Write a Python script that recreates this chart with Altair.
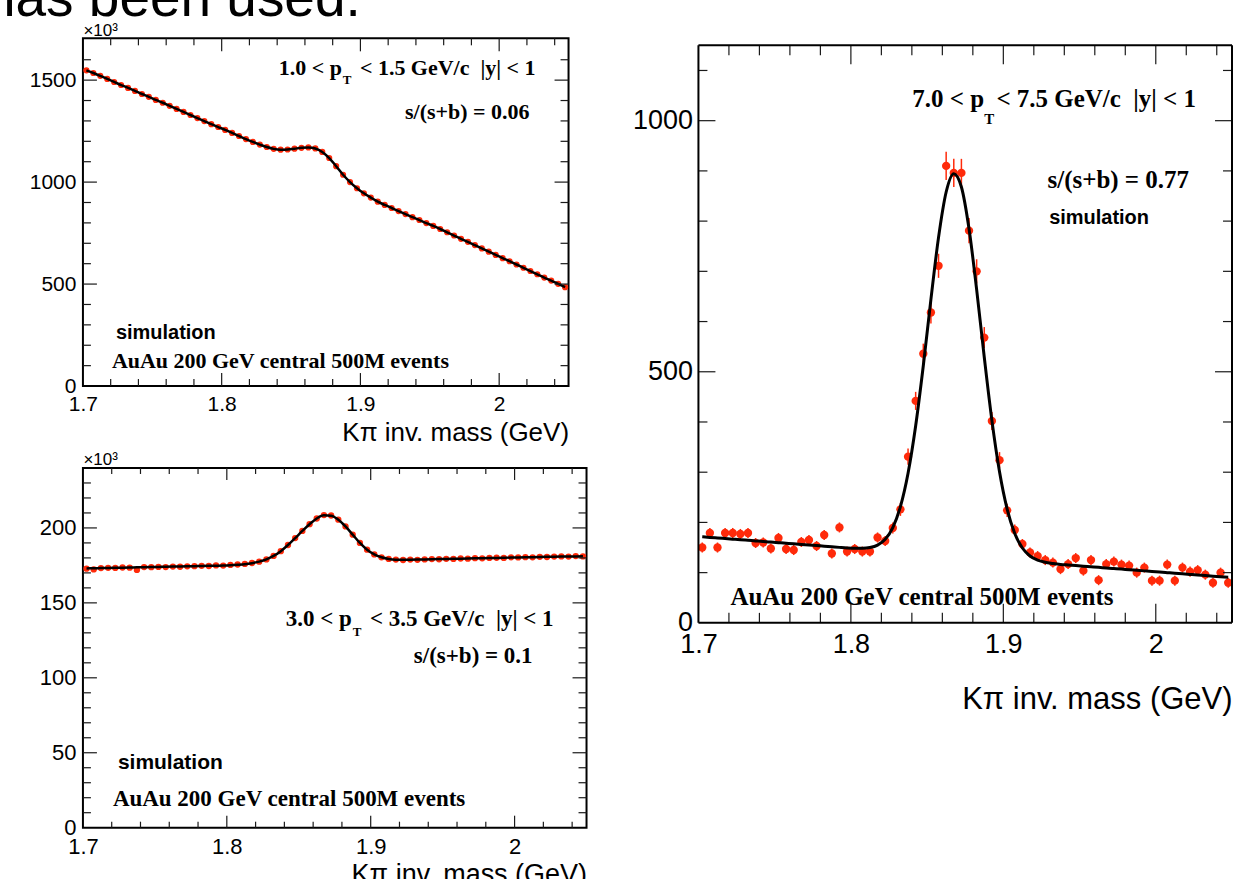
import altair as alt
import pandas as pd

# ---------------- data ----------------
# 70 bins of 5 MeV between 1.70 and 2.05 GeV (bin centres)
mass = [round(1.7025 + 0.005 * i, 4) for i in range(70)]

# top-left: 1.0 < pT < 1.5 GeV/c  (units of 10^3)
tl_counts = [1548, 1535, 1521, 1506, 1491, 1476, 1462, 1447, 1432, 1418,
             1403, 1389, 1374, 1359, 1344, 1329, 1314, 1299, 1284, 1270,
             1256, 1241, 1226, 1211, 1197, 1184, 1172, 1163, 1159, 1160,
             1164, 1168, 1170, 1165, 1148, 1118, 1078, 1036, 1000, 970,
             945, 924, 904, 888, 873, 858, 843, 828, 814, 799,
             785, 770, 754, 738, 722, 707, 691, 675, 659, 643,
             627, 612, 596, 580, 564, 548, 532, 517, 501, 485]
tl_fit = tl_counts

# bottom-left: 3.0 < pT < 3.5 GeV/c  (units of 10^3)
bl_counts = [172.8, 172.3, 173.2, 173.4, 173.3, 173.6, 173.5, 172.0, 173.9, 173.8,
             174.0, 173.9, 174.2, 174.1, 174.4, 174.5, 174.7, 174.6, 175.0, 174.9,
             175.3, 175.6, 176.0, 176.6, 177.5, 179.0, 181.3, 184.5, 188.6, 193.2,
             198.0, 202.5, 206.3, 208.6, 208.3, 205.5, 201.0, 195.5, 190.0, 185.5,
             182.3, 180.4, 179.3, 178.9, 178.6, 178.9, 178.7, 179.0, 179.2, 179.1,
             179.4, 179.3, 179.6, 179.5, 179.8, 179.7, 180.0, 180.1, 180.0, 180.4,
             180.3, 180.5, 180.4, 180.7, 180.6, 180.9, 181.0, 180.9, 181.2, 181.0]
bl_fit = [173.0, 173.1, 173.2, 173.3, 173.4, 173.5, 173.6, 173.7, 173.8, 173.9,
          174.0, 174.1, 174.2, 174.3, 174.4, 174.5, 174.6, 174.7, 174.8, 174.9,
          175.1, 175.4, 175.8, 176.5, 177.5, 179.0, 181.3, 184.5, 188.6, 193.2,
          198.0, 202.5, 206.3, 208.4, 208.2, 205.5, 201.0, 195.5, 190.0, 185.5,
          182.3, 180.4, 179.3, 178.8, 178.7, 178.8, 178.9, 179.0, 179.1, 179.2,
          179.3, 179.4, 179.5, 179.6, 179.7, 179.8, 179.9, 180.0, 180.1, 180.2,
          180.3, 180.4, 180.5, 180.6, 180.7, 180.8, 180.9, 181.0, 181.0, 181.1]

# right: 7.0 < pT < 7.5 GeV/c
r_counts = [150, 179, 150, 179, 179, 177, 179, 159, 160, 148,
            169, 147, 145, 161, 165, 153, 175, 138, 190, 142,
            147, 142, 142, 170, 163, 189, 226, 331, 442, 536,
            618, 711, 910, 896, 896, 781, 700, 568, 402, 324,
            224, 185, 157, 140, 133, 125, 120, 107, 117, 129,
            104, 125, 85, 117, 122, 116, 114, 100, 110, 84,
            84, 116, 84, 110, 102, 105, 96, 80, 100, 80]
r_err = [10, 10, 10, 10, 10, 10, 10, 10, 10, 10,
         10, 10, 10, 10, 10, 10, 10, 10, 10, 10,
         10, 10, 10, 10, 10, 11, 13, 16, 18, 20,
         22, 24, 28, 28, 28, 25, 24, 21, 18, 16,
         13, 11, 10, 10, 10, 10, 10, 10, 10, 10,
         10, 10, 10, 10, 10, 10, 10, 10, 10, 10,
         10, 10, 10, 10, 10, 10, 10, 10, 10, 10]
r_fit = [171.4, 170.2, 169.1, 167.9, 166.7, 165.6, 164.4, 163.2, 162.0, 160.9,
         159.7, 158.5, 157.4, 156.2, 155.0, 153.9, 152.7, 151.5, 150.3, 149.2,
         148.5, 148.4, 149.9, 154.7, 166.3, 189.8, 231.6, 298.0, 392.5, 512.0,
         644.0, 767.6, 858.0, 894.5, 868.0, 784.7, 663.5, 528.9, 403.2, 300.8,
         226.6, 178.0, 149.0, 133.2, 124.9, 120.6, 118.3, 116.4, 115.2, 114.1,
         112.9, 111.7, 110.5, 109.4, 108.2, 107.0, 105.9, 104.7, 103.5, 102.3,
         101.2, 100.0, 98.8, 97.7, 96.5, 95.3, 94.2, 93.0, 91.8, 90.6]

# axis tick values
x_labels = [1.7, 1.8, 1.9, 2.0]
x_major_ticks = [1.8, 1.9, 2.0]
x_minor_ticks = [1.72, 1.74, 1.76, 1.78, 1.82, 1.84, 1.86, 1.88,
                 1.92, 1.94, 1.96, 1.98, 2.02, 2.04]
tl_y_labels = [0, 500, 1000, 1500]
tl_y_minor = [100, 200, 300, 400, 600, 700, 800, 900, 1100, 1200, 1300, 1400, 1600]
bl_y_labels = [0, 50, 100, 150, 200]
bl_y_minor = [10, 20, 30, 40, 60, 70, 80, 90, 110, 120, 130, 140,
              160, 170, 180, 190, 210, 220, 230]
r_y_labels = [0, 500, 1000]
r_y_minor = [100, 200, 300, 400, 600, 700, 800, 900, 1100]

XTITLE = "Kπ inv. mass (GeV)"
RED = "#ff2a0a"
SANS = "Liberation Sans"
SERIF = "Liberation Serif"
ONE = pd.DataFrame({"k": [0]})
XLABEL_EXPR = "datum.value == 2 ? '2' : format(datum.value, '.1f')"


def txt(s, x, y, size, font=SERIF, weight="bold", align="left"):
    return alt.Chart(ONE).mark_text(
        text=s, font=font, fontSize=size, fontWeight=weight, align=align,
        baseline="alphabetic", color="black"
    ).encode(x=alt.value(x), y=alt.value(y))


def panel(W, H, ydom, y_labels, y_major, y_minor, counts, fit, err,
          pt_size, line_w, lab_size, pad_x, pad_y,
          title_size, title_y, ytitle, tick_len, texts, top=0, bottom=None):
    # bottom: pixel position of the plot box bottom (may lie below the cell)
    B = H if bottom is None else bottom
    yscale = alt.Scale(domain=ydom, nice=False, zero=False)
    if bottom is not None:
        yscale = alt.Scale(domain=ydom, nice=False, zero=False, range=[B, 0])
    X = alt.X("x:Q", scale=alt.Scale(domain=[1.7, 2.05], nice=False, zero=False),
              axis=alt.Axis(values=x_labels, labelExpr=XLABEL_EXPR, title=XTITLE,
                            offset=B - H,
                            titleX=W, titleY=title_y, titleAlign="right",
                            titleBaseline="alphabetic", titleFont=SANS,
                            titleFontSize=title_size, titleFontWeight="normal",
                            titleColor="black", labelFont=SANS,
                            labelFontSize=lab_size, labelColor="black",
                            labelPadding=pad_x, labelFlush=False, labelOverlap=False,
                            ticks=False, tickSize=0, domain=False, grid=False))
    Y = alt.Y("y:Q", scale=yscale,
              axis=alt.Axis(values=y_labels, format="d", title=ytitle, titleAngle=0,
                            titleX=0, titleY=-3, titleAlign="left",
                            titleBaseline="alphabetic", titleFont=SANS,
                            titleFontSize=17, titleFontWeight="normal",
                            titleColor="black", labelFont=SANS,
                            labelFontSize=lab_size, labelColor="black",
                            labelPadding=pad_y, labelFlush=False, labelOverlap=False,
                            ticks=False, tickSize=0, domain=False, grid=False))
    layers = []
    if err is not None:
        edf = pd.DataFrame({"x": mass,
                            "y": [c - e for c, e in zip(counts, err)],
                            "y2": [c + e for c, e in zip(counts, err)]})
        layers.append(alt.Chart(edf).mark_rule(color=RED, strokeWidth=1.5)
                      .encode(x=X, y=Y, y2="y2:Q"))
    pdf = pd.DataFrame({"x": mass, "y": counts})
    layers.append(alt.Chart(pdf).mark_circle(color=RED, size=pt_size, opacity=1)
                  .encode(x=X, y=Y))
    fdf = pd.DataFrame({"x": mass, "y": fit})
    layers.append(alt.Chart(fdf).mark_line(color="black", strokeWidth=line_w,
                                           interpolate="monotone")
                  .encode(x=X, y=Y))
    xM, xm, yM, ym = tick_len
    for vals, L in [(x_major_ticks, xM), (x_minor_ticks, xm)]:
        base = alt.Chart(pd.DataFrame({"x": vals})).mark_rule(color="#1a1a1a", strokeWidth=1.2)
        layers.append(base.encode(x=X, y=alt.value(top), y2=alt.value(top + L)))
        layers.append(base.encode(x=X, y=alt.value(B), y2=alt.value(B - L)))
    for vals, L in [(y_major, yM), (y_minor, ym)]:
        base = alt.Chart(pd.DataFrame({"y": vals})).mark_rule(color="#1a1a1a", strokeWidth=1.2)
        layers.append(base.encode(y=Y, x=alt.value(0), x2=alt.value(L)))
        layers.append(base.encode(y=Y, x=alt.value(W - L), x2=alt.value(W)))
    if bottom is not None:
        # plot box drawn explicitly (it extends beyond the layout cell)
        fr = alt.Chart(ONE).mark_rule(color="black", strokeWidth=2)
        layers.append(fr.encode(x=alt.value(0), x2=alt.value(W), y=alt.value(top)))
        layers.append(fr.encode(x=alt.value(0), x2=alt.value(W), y=alt.value(B)))
        layers.append(fr.encode(x=alt.value(0), y=alt.value(top), y2=alt.value(B)))
        layers.append(fr.encode(x=alt.value(W), y=alt.value(top), y2=alt.value(B)))
    for t in texts:
        layers.append(txt(*t))
    ch = alt.layer(*layers).properties(width=W, height=H)
    if bottom is not None:
        ch = ch.properties(view=alt.ViewBackground(strokeOpacity=0))
    return ch


NB = "\u00a0"
tl_texts = [
    ("1.0 < p", 196, 37, 22),
    ("T", 260, 46, 13),
    ("< 1.5 GeV/c" + NB + " |y| < 1", 453, 37, 22, SERIF, "bold", "right"),
    ("s/(s+b) = 0.06", 447, 81, 22, SERIF, "bold", "right"),
    ("simulation", 33, 301, 20, SANS, "bold"),
    ("AuAu 200 GeV central 500M events", 29, 330, 22),
    ("has been used.", -98, -22, 55, SANS, "normal"),
]
bl_texts = [
    ("3.0 < p", 203, 158, 23),
    ("T", 270, 168, 13),
    ("< 3.5 GeV/c" + NB + " |y| < 1", 471, 158, 23, SERIF, "bold", "right"),
    ("s/(s+b) = 0.1", 450, 195, 23, SERIF, "bold", "right"),
    ("simulation", 35, 301, 21, SANS, "bold"),
    ("AuAu 200 GeV central 500M events", 30, 338, 23),
]
R_TOP = 7
r_texts = [
    ("7.0 < p", 214, 62 + R_TOP, 25),
    ("T", 286, 79 + R_TOP, 15),
    ("< 7.5 GeV/c" + NB + " |y| < 1", 498, 62 + R_TOP, 25, SERIF, "bold", "right"),
    ("s/(s+b) = 0.77", 491, 143 + R_TOP, 25, SERIF, "bold", "right"),
    ("simulation", 351, 179 + R_TOP, 20, SANS, "bold"),
    ("AuAu 200 GeV central 500M events", 32, 560 + R_TOP, 25),
]

tl = panel(486, 348, [0, 1705], tl_y_labels, [500, 1000, 1500], tl_y_minor,
           tl_counts, tl_fit, None, 38, 2.5, 21, 7, 7, 26, 55, "×10³",
           (13, 7, 14, 8), tl_texts)
bl = panel(504, 360, [0, 240], bl_y_labels, [50, 100, 150, 200], bl_y_minor,
           bl_counts, bl_fit, None, 40, 2.5, 22, 9, 7, 27, 55, "×10³",
           (12, 6, 14, 8), bl_texts)
# right panel: occupies the first row's cell (348 px) but its plot box runs to 585 px
rp = panel(534, 348, [0, 1164], r_y_labels, [500, 1000], r_y_minor,
           r_counts, r_fit, r_err, 70, 3, 27, 9, 6, 31, 86, "",
           (19, 10, 17, 9), r_texts, top=R_TOP, bottom=585)

chart = alt.concat(
    tl, rp, bl, columns=2, spacing={"row": 82, "column": 112},
    bounds="flush", align="each",
).properties(
    padding={"left": -16, "top": -29, "right": 0, "bottom": -10},
    background="white",
).configure_view(stroke="black", strokeWidth=2)

chart.save("out.html", embed_options={"renderer": "svg", "actions": False})
